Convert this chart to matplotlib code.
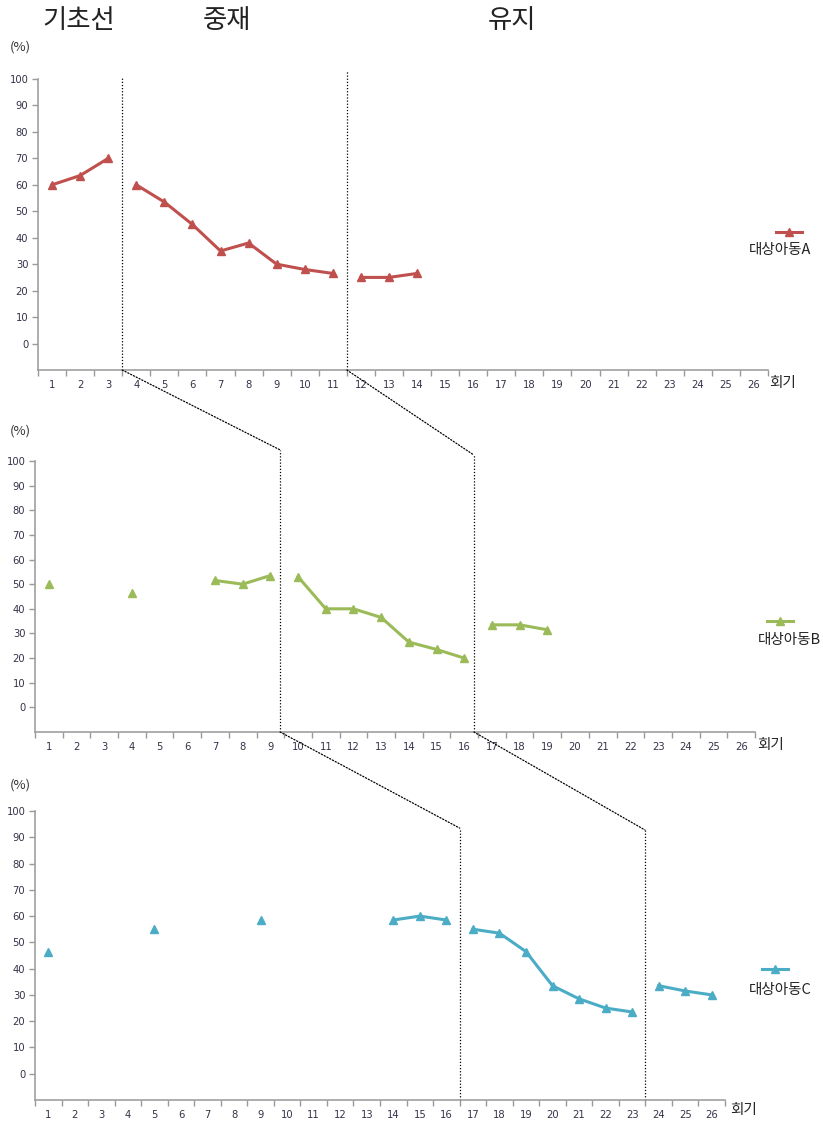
import numpy as np
import matplotlib
matplotlib.use("Agg")
import matplotlib.pyplot as plt
from matplotlib.patches import ConnectionPatch
from matplotlib.lines import Line2D

plt.rcParams['font.family'] = ['DejaVu Sans', 'Noto Sans CJK KR']
KR = ['Noto Sans CJK KR', 'DejaVu Sans']

nan = np.nan
sessions = list(range(1, 27))
a_values = [60, 63.5, 70, 60, 53.5, 45, 35, 38, 30, 28, 26.5, 25, 25, 26.5] + [nan] * 12
b_values = [50, nan, nan, 46.5, nan, nan, 51.5, 50, 53.5, 53, 40, 40, 36.5, 26.5,
            23.5, 20, 33.5, 33.5, 31.5] + [nan] * 7
c_values = [46.5, nan, nan, nan, 55, nan, nan, nan, 58.5, nan, nan, nan, nan, 58.5,
            60, 58.5, 55, 53.5, 46.5, 33.5, 28.5, 25, 23.5, 33.5, 31.5, 30]
series_names = ['대상아동A', '대상아동B', '대상아동C']
colors = ['#C0504D', '#9BBB59', '#4BACC6']
phase_breaks = [[3, 11], [9, 16], [16, 23]]   # last session of baseline / intervention
phase_titles = ['기초선', '중재', '유지']
y_ticks = list(range(0, 101, 10))

W, H = 823, 1121
fig = plt.figure(figsize=(W / 100, H / 100), dpi=100)

def fx(p):
    return p / W

def fy(p):
    return 1 - p / H

def px_axes(left, right, top, bottom):
    return fig.add_axes([left / W, 1 - bottom / H, (right - left) / W, (bottom - top) / H])

axes = [px_axes(38, 768, 79, 370), px_axes(35, 755, 461, 732), px_axes(35, 725, 811, 1100)]
all_values = [a_values, b_values, c_values]
# legend layout (pixels): line x0, x1, marker x, line y, text x, text y
legend_px = [(776, 802, 789, 232, 780, 250),
             (767, 793, 780, 621, 789, 640),
             (762, 788, 775, 969, 780, 990)]

for ax, vals, col, name, br, lg in zip(axes, all_values, colors, series_names,
                                      phase_breaks, legend_px):
    x = np.array(sessions)
    y = np.array(vals, dtype=float)
    bounds = [0, br[0], br[1], len(sessions)]
    for i in range(3):
        s, e = bounds[i], bounds[i + 1]
        ax.plot(x[s:e], y[s:e], color=col, lw=2.2, marker='^', ms=6.3,
                markeredgecolor=col, clip_on=False, zorder=3)
    ax.set_xlim(0.5, 26.5)
    ax.set_ylim(-10, 100)
    ax.set_yticks(y_ticks)
    ax.set_yticklabels([str(t) for t in y_ticks])
    ax.set_xticks(sessions)
    ax.set_xticklabels([str(s) for s in sessions])
    ax.set_xticks(np.arange(0.5, 27, 1), minor=True)
    ax.tick_params(axis='x', which='major', length=0, pad=7, labelsize=7.2, labelcolor='#33334a')
    ax.tick_params(axis='x', which='minor', length=4, width=1, color='#999999', direction='out')
    ax.tick_params(axis='y', length=4, width=1, color='#999999', pad=3, labelsize=7.2,
                   labelcolor='#33334a')
    for sp in ['top', 'right']:
        ax.spines[sp].set_visible(False)
    for sp in ['left', 'bottom']:
        ax.spines[sp].set_color('#A0A0A0')
        ax.spines[sp].set_linewidth(1.2)
    # legend sample (handle above label)
    x0, x1, xm, ly, tx, ty = lg
    fig.add_artist(Line2D([fx(x0), fx(x1)], [fy(ly), fy(ly)], transform=fig.transFigure,
                          color=col, lw=2.2))
    fig.add_artist(Line2D([fx(xm)], [fy(ly)], transform=fig.transFigure, color=col,
                          marker='^', ms=6, lw=0))
    fig.text(fx(tx), fy(ty), name, ha='center', va='center', fontsize=10.5, family=KR,
             color='#222222')

# axis captions
cap_pos = [(20, 47, 783, 383), (20, 431, 771, 745), (20, 785, 744, 1110)]
for (px, py, hx, hy) in cap_pos:
    fig.text(fx(px), fy(py), '(%)', ha='center', va='center', fontsize=9.5, family=KR,
             color='#333333')
    fig.text(fx(hx), fy(hy), '회기', ha='center', va='center', fontsize=10.5, family=KR,
             color='#222222')

# phase titles
for t, xp in zip(phase_titles, [79, 227, 512]):
    fig.text(fx(xp), fy(20), t, ha='center', va='center', fontsize=19, family=KR,
             color='#222222')

# phase change lines
axA, axB, axC = axes
v_lines = [
    (axA, 3.5, 100.8), (axA, 11.5, 103.4),
    (axB, 9.35, 104.5), (axB, 16.35, 102.4),
    (axC, 16.5, 93.5), (axC, 23.48, 92.8),
]
for ax, xv, top in v_lines:
    ax.plot([xv, xv], [-10, top], color='black', lw=0.9, ls=(0, (1, 1.5)), clip_on=False,
            zorder=2)

links = [
    (axA, 3.5, axB, 9.35, 104.5), (axA, 11.5, axB, 16.35, 102.4),
    (axB, 9.35, axC, 16.5, 93.5), (axB, 16.35, axC, 23.48, 92.8),
]
for a1, x1, a2, x2, y2 in links:
    con = ConnectionPatch(xyA=(x1, -10), coordsA=a1.transData, xyB=(x2, y2),
                          coordsB=a2.transData, color='black', lw=0.9, ls=(0, (1, 1.5)))
    fig.add_artist(con)

fig.savefig('out.png', dpi=100)
